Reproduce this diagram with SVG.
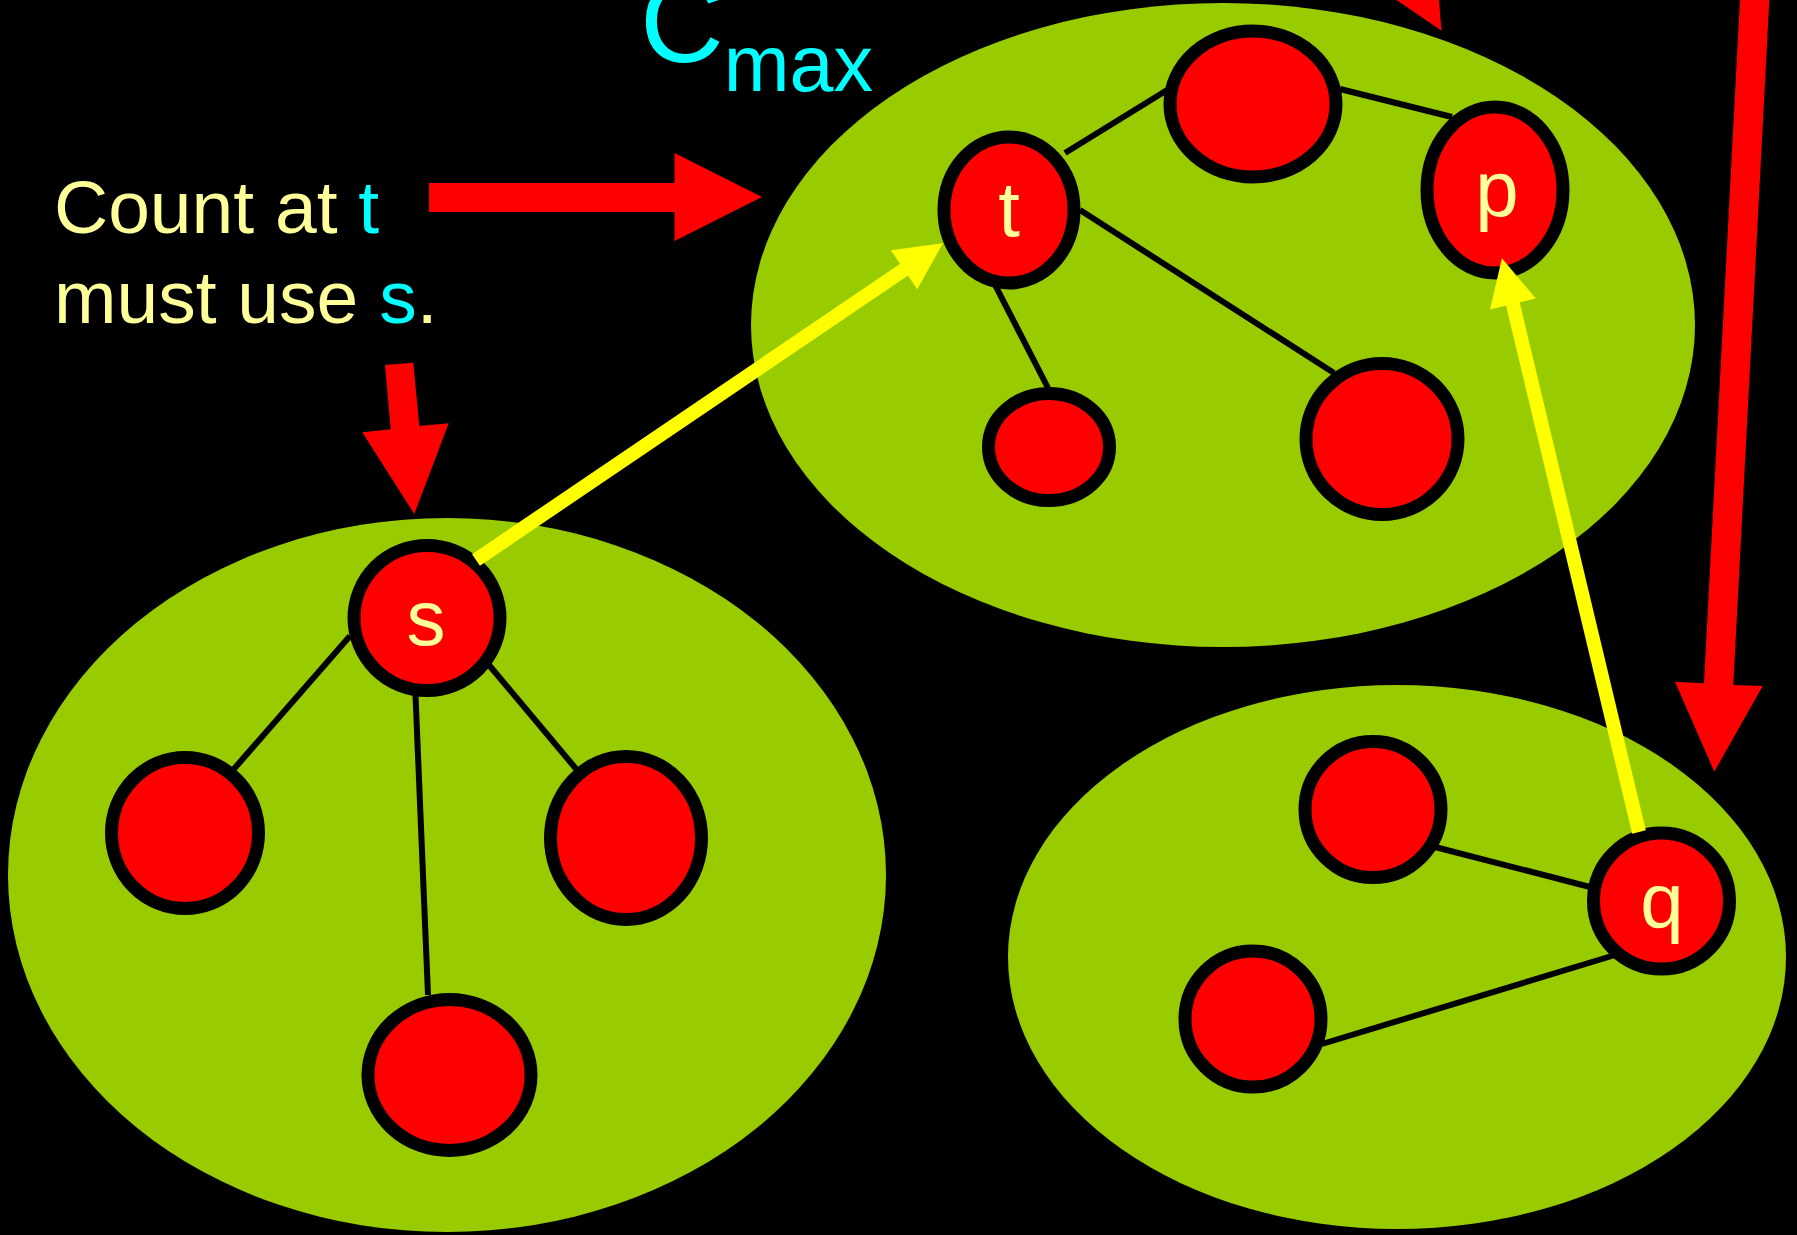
<svg xmlns="http://www.w3.org/2000/svg" width="1797" height="1235" viewBox="0 0 1797 1235">
  <defs>
    <style>
      .cluster { fill: #99CC00; }
      .node { fill: #FF0000; stroke: #000000; stroke-width: 13; }
      .edge { stroke: #000000; stroke-width: 6; fill: none; }
      .link { stroke: #FFFF00; stroke-width: 14; fill: none; marker-end: url(#yhead); }
      .big { fill: #FF0000; }
      .lbl { font-family: "Liberation Sans", Arial, sans-serif; font-size: 78px; fill: #FFFF99; text-anchor: middle; }
      .txt { font-family: "Liberation Sans", Arial, sans-serif; font-size: 75px; fill: #FFFF99; }
      .cy { fill: #00FFFF; }
    </style>
    <marker id="yhead" markerUnits="userSpaceOnUse" markerWidth="50" markerHeight="50" refX="5" refY="25" orient="auto" overflow="visible">
      <path d="M0,1.5 L47,25 L0,48.5 Z" fill="#FFFF00"/>
    </marker>
  </defs>
  <rect x="0" y="0" width="1797" height="1235" fill="#000000"/>

  <!-- clusters -->
  <g id="cluster-top">
    <ellipse class="cluster" cx="1223" cy="325" rx="472" ry="322"/>
  </g>
  <g id="cluster-left">
    <ellipse class="cluster" cx="447" cy="875" rx="439" ry="357"/>
  </g>
  <g id="cluster-right">
    <ellipse class="cluster" cx="1397" cy="957" rx="389" ry="272"/>
  </g>

  <!-- connectors -->
  <g id="edges">
    <line class="edge" x1="1065" y1="153" x2="1185" y2="79"/>
    <line class="edge" x1="1340" y1="89" x2="1452" y2="117"/>
    <line class="edge" x1="1080" y1="210" x2="1334" y2="373"/>
    <line class="edge" x1="991" y1="277" x2="1048" y2="388"/>
    <line class="edge" x1="350" y1="636" x2="233" y2="770"/>
    <line class="edge" x1="489" y1="665" x2="577" y2="770"/>
    <line class="edge" x1="415" y1="683" x2="428" y2="995"/>
    <line class="edge" x1="1435" y1="847" x2="1590" y2="887"/>
    <line class="edge" x1="1322" y1="1044" x2="1615" y2="955"/>
  </g>

  <!-- nodes -->
  <g id="node-t">
    <ellipse class="node" cx="1009" cy="210" rx="65" ry="73"/>
    <text class="lbl" x="1009" y="236">t</text>
  </g>
  <g id="node-top">
    <ellipse class="node" cx="1253" cy="104" rx="83" ry="73"/>
  </g>
  <g id="node-p">
    <ellipse class="node" cx="1495" cy="190" rx="68" ry="83"/>
    <text class="lbl" x="1497" y="216">p</text>
  </g>
  <g id="node-small">
    <ellipse class="node" cx="1049" cy="447" rx="60.5" ry="53.5"/>
  </g>
  <g id="node-lowright">
    <ellipse class="node" cx="1382" cy="439" rx="76" ry="75.5"/>
  </g>
  <g id="node-s">
    <ellipse class="node" cx="427" cy="618" rx="73" ry="72.5"/>
    <text class="lbl" x="426" y="645">s</text>
  </g>
  <g id="node-left">
    <ellipse class="node" cx="185" cy="833" rx="73.5" ry="75.5"/>
  </g>
  <g id="node-right">
    <ellipse class="node" cx="626" cy="838" rx="75.5" ry="81.5"/>
  </g>
  <g id="node-bottom">
    <ellipse class="node" cx="449.5" cy="1075" rx="81.5" ry="75.5"/>
  </g>
  <g id="node-q">
    <ellipse class="node" cx="1661.5" cy="901" rx="68" ry="68"/>
    <text class="lbl" x="1662" y="928">q</text>
  </g>
  <g id="node-br-upper">
    <ellipse class="node" cx="1373" cy="809.5" rx="68" ry="68"/>
  </g>
  <g id="node-br-lower">
    <ellipse class="node" cx="1253" cy="1019" rx="68" ry="68"/>
  </g>

  <!-- yellow links -->
  <g id="links">
    <line class="link" x1="476" y1="560" x2="908.2" y2="266.9"/>
    <line class="link" x1="1639" y1="832" x2="1511.7" y2="299.1"/>
  </g>

  <!-- red block arrows -->
  <g id="red-arrows">
    <polygon class="big" points="429,183 674.5,183 674.5,153 762,197 674.5,241 674.5,212 429,212"/>
    <polygon class="big" points="385,365 413.3,362.7 419.3,426 448.7,423.3 414.3,514 362.3,432.3 390.7,429.3"/>
    <polygon class="big" points="1741,-20 1770.4,-20 1733.3,685 1762.7,686 1714.3,771.7 1675,681.7 1704,683.3"/>
    <polygon class="big" points="1352.6,-30 1436.6,-30 1441.5,30.7"/>
  </g>

  <!-- texts -->
  <g id="caption">
    <text class="txt" x="54" y="233">Count at <tspan class="cy">t</tspan></text>
    <text class="txt" x="54" y="323">must use <tspan class="cy">s</tspan>.</text>
  </g>
  <g id="cmax">
    <text font-family="Liberation Sans, Arial, sans-serif" fill="#00FFFF" x="640" y="62" font-size="116">C<tspan font-size="79" dy="28.7">max</tspan></text>
  </g>
</svg>
